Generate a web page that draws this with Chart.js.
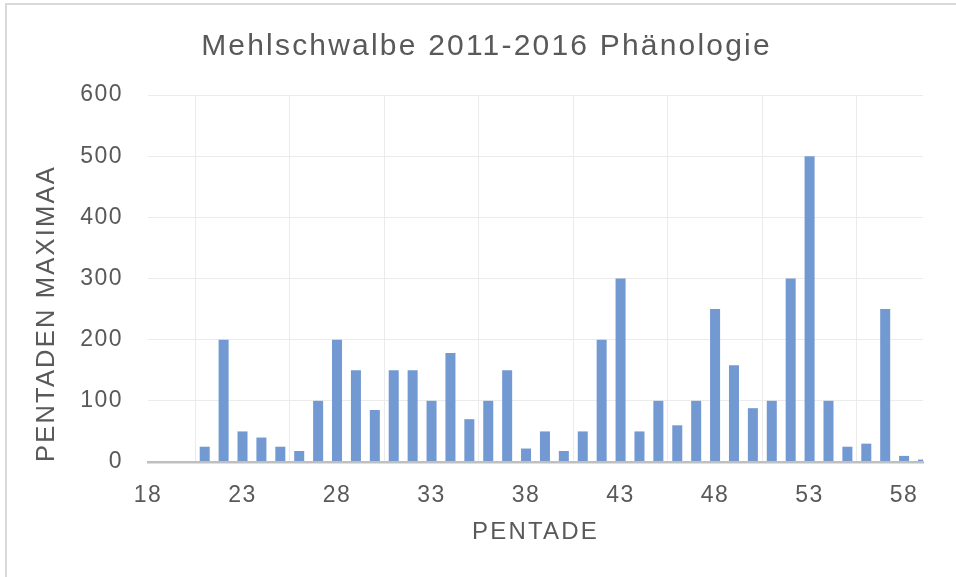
<!DOCTYPE html>
<html>
<head>
<meta charset="utf-8">
<script src="https://cdn.jsdelivr.net/npm/chart.js@4.4.1/dist/chart.umd.min.js"></script>
<style>
  html, body { margin: 0; padding: 0; background: #ffffff; }
  #wrap { position: relative; width: 956px; height: 577px; overflow: hidden; }
  #c { position: absolute; left: 0; top: 0; }
  #frame { position: absolute; left: 5px; top: 3px; width: 960px; height: 580px;
           border-top: 2px solid #d9d9d9; border-left: 2px solid #d9d9d9; pointer-events: none; }
</style>
</head>
<body>
<div id="wrap">
  <canvas id="c" width="956" height="577"></canvas>
  <div id="frame"></div>
</div>
<script>
const titleText = 'Mehlschwalbe 2011-2016 Phänologie';
const xAxisTitle = 'PENTADE';
const yAxisTitle = 'PENTADEN MAXIMAA';
const pentades = [18,19,20,21,22,23,24,25,26,27,28,29,30,31,32,33,34,35,36,37,38,39,40,41,42,43,44,45,46,47,48,49,50,51,52,53,54,55,56,57,58,59];
const maxima   = [0,0,0,25,200,50,40,25,18,100,200,150,85,150,150,100,178,70,100,150,22,50,18,50,200,300,50,100,60,100,250,158,88,100,300,500,100,25,30,250,10,4];
const xTicks = [18,23,28,33,38,43,48,53,58];
const yTicks = [0,100,200,300,400,500,600];

const FONT = "'Liberation Sans', Arial, Helvetica, sans-serif";
const TEXT = '#595959';

const points = pentades.map((p, i) => ({ x: p, y: maxima[i] }));

// wider letter spacing (as in the reference rendering) and title centring
const textTweaks = {
  id: 'textTweaks',
  afterLayout(chart) {
    const t = chart.titleBlock;
    if (t) { t.left += 25; t.right += 25; }
  },
  beforeDraw(chart) { chart.ctx.letterSpacing = '2.2px'; },
  beforeDatasetsDraw(chart) { chart.ctx.letterSpacing = '1.5px'; },
  afterDraw(chart) { chart.ctx.letterSpacing = '0px'; }
};

new Chart(document.getElementById('c'), {
  type: 'bar',
  data: {
    datasets: [{
      data: points,
      backgroundColor: '#7399d3',
      borderWidth: 0,
      barPercentage: 0.53,
      categoryPercentage: 1.0
    }]
  },
  options: {
    responsive: false,
    animation: false,
    devicePixelRatio: 1,
    layout: { padding: { left: 0, right: 33, top: 0, bottom: 0 } },
    plugins: {
      legend: { display: false },
      tooltip: { enabled: false },
      title: {
        display: true,
        text: titleText,
        color: TEXT,
        font: { family: FONT, size: 30, weight: 'normal' },
        padding: { top: 29, bottom: 30 }
      }
    },
    scales: {
      x: {
        type: 'linear',
        min: 18,
        max: 59,
        offset: false,
        afterBuildTicks(scale) { scale.ticks = xTicks.map(v => ({ value: v })); },
        afterFit(scale) { scale.height = 115; },
        ticks: {
          color: TEXT,
          font: { family: FONT, size: 23 },
          padding: 20,
          maxRotation: 0,
          autoSkip: false,
          z: 1
        },
        grid: { color: '#ebebeb', lineWidth: 1, drawTicks: false },
        border: { display: true, color: '#bfbfbf', width: 2.5, z: 1 },
        title: {
          display: true,
          text: xAxisTitle,
          color: TEXT,
          font: { family: FONT, size: 24 },
          padding: { top: 0, bottom: 30 }
        }
      },
      y: {
        min: 0,
        max: 600,
        afterBuildTicks(scale) { scale.ticks = yTicks.map(v => ({ value: v })); },
        afterFit(scale) { scale.width = 148; },
        ticks: {
          color: TEXT,
          font: { family: FONT, size: 23 },
          padding: 25,
          z: 1
        },
        grid: { color: '#ebebeb', lineWidth: 1, drawTicks: false },
        border: { display: false },
        title: {
          display: true,
          text: yAxisTitle,
          align: 'start',
          color: TEXT,
          font: { family: FONT, size: 25.5 },
          padding: { top: 32, bottom: 0 }
        }
      }
    }
  },
  plugins: [textTweaks]
});
</script>
</body>
</html>
